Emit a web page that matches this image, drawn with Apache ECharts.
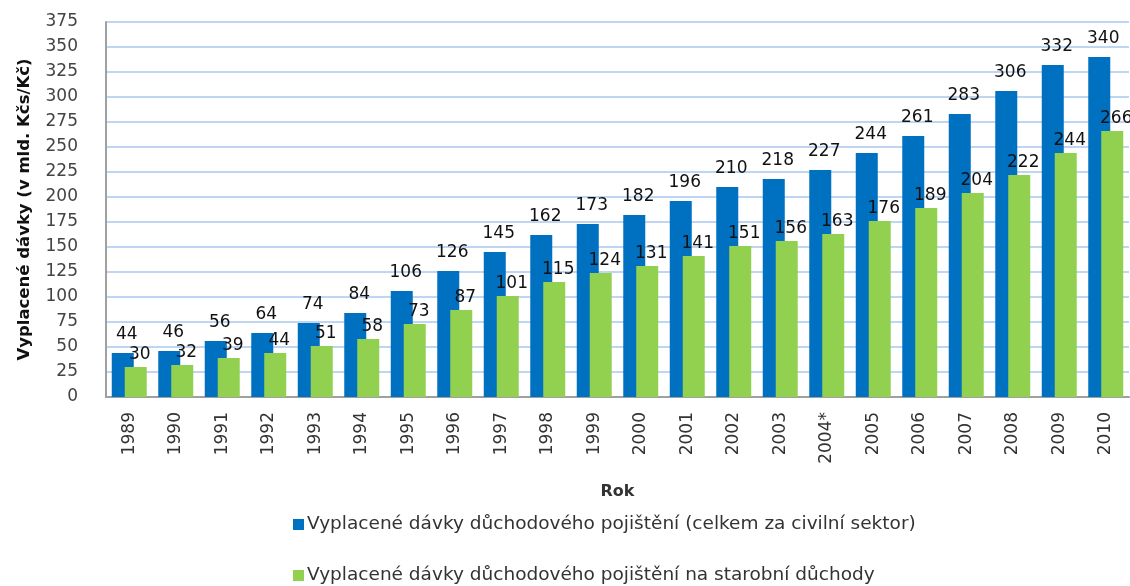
<!DOCTYPE html>
<html>
<head>
<meta charset="utf-8">
<script src="https://cdn.jsdelivr.net/npm/echarts@6/dist/echarts.min.js"></script>
<style>
html, body { margin: 0; padding: 0; background: #fff; }
#main { width: 1130px; height: 586px; }
</style>
</head>
<body>
<div id="main"></div>
<script>
var years = ['1989', '1990', '1991', '1992', '1993', '1994', '1995', '1996', '1997', '1998', '1999',
	'2000', '2001', '2002', '2003', '2004*', '2005', '2006', '2007', '2008', '2009', '2010'];
// celkem za civilni sektor
var totalBenefits = [44, 46, 56, 64, 74, 84, 106, 126, 145, 162, 173, 182, 196, 210, 218, 227, 244, 261, 283, 306, 332, 340];
// starobni duchody
var oldAgeBenefits = [30, 32, 39, 44, 51, 58, 73, 87, 101, 115, 124, 131, 141, 151, 156, 163, 176, 189, 204, 222, 244, 266];
var seriesNames = [
	'Vyplacené dávky důchodového pojištění (celkem za civilní sektor)',
	'Vyplacené dávky důchodového pojištění na starobní důchody'
];

var font = 'DejaVu Sans';
var chart = echarts.init(document.getElementById('main'), null, { renderer: 'canvas' });

function legendRow(name, top) {
	return {
		left: 288,
		top: top,
		itemWidth: 11,
		itemHeight: 11,
		itemGap: 4,
		icon: 'rect',
		textStyle: { fontFamily: font, fontSize: 18.5, color: '#333', padding: [0, 0, 0, -2] },
		data: [name]
	};
}

var option = {
	backgroundColor: '#fff',
	animation: false,
	textStyle: { fontFamily: font },
	grid: {
		left: 106,
		right: 1,
		top: 22,
		bottom: 189
	},
	legend: [
		legendRow(seriesNames[0], 510),
		legendRow(seriesNames[1], 561)
	],
	xAxis: {
		type: 'category',
		data: years,
		name: 'Rok',
		nameLocation: 'middle',
		nameGap: 87,
		nameTextStyle: { fontFamily: font, fontSize: 16, fontWeight: 'bold', color: '#333' },
		axisLine: { lineStyle: { color: '#a0a0a0', width: 2 } },
		axisTick: { show: false },
		axisLabel: {
			rotate: 90,
			margin: 15,
			fontSize: 17,
			color: '#333',
			interval: 0
		}
	},
	yAxis: {
		type: 'value',
		min: 0,
		max: 375,
		interval: 25,
		name: 'Vyplacené dávky (v mld. Kčs/Kč)',
		nameLocation: 'middle',
		nameRotate: 90,
		nameGap: 73,
		nameTextStyle: { fontFamily: font, fontSize: 16.5, fontWeight: 'bold', color: '#111' },
		axisLine: { show: true, lineStyle: { color: '#a0a0a0', width: 2 } },
		axisTick: { show: false },
		axisLabel: { fontSize: 17, color: '#444', margin: 28 },
		splitLine: { lineStyle: { color: '#a9c8ee', width: 1.5 } }
	},
	series: [{
			name: seriesNames[0],
			type: 'bar',
			data: totalBenefits,
			barWidth: 22,
			barGap: '-41%',
			itemStyle: { color: '#0070c0' },
			label: {
				show: true,
				position: 'top',
				distance: 10,
				offset: [4, 0],
				fontSize: 17,
				color: '#111'
			}
		},
		{
			name: seriesNames[1],
			type: 'bar',
			data: oldAgeBenefits,
			barWidth: 22,
			itemStyle: { color: '#92d050' },
			label: {
				show: true,
				position: 'top',
				distance: 4,
				offset: [4, 0],
				fontSize: 17,
				color: '#111'
			}
		}
	]
};

chart.setOption(option);
</script>
</body>
</html>
